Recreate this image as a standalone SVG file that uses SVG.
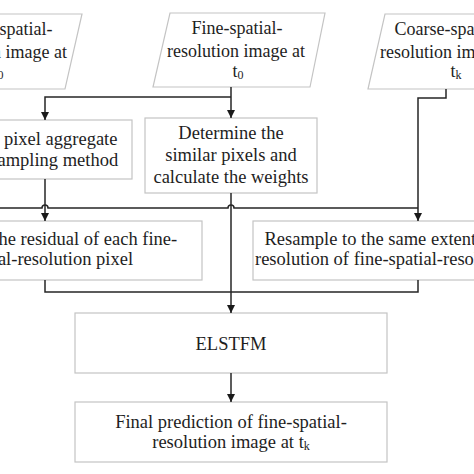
<svg xmlns="http://www.w3.org/2000/svg" width="474" height="474" viewBox="0 0 474 474">
<style>
.box{fill:#ffffff;stroke:#c4c4c4;stroke-width:1.2}
.t{font-family:"Liberation Serif","Times New Roman",serif;font-size:18.5px;fill:#1e1e1e;text-anchor:middle}
.p{font-size:18px}
.c{fill:none;stroke:#262626;stroke-width:1.5}
</style>
<defs>
<marker id="ah" markerUnits="userSpaceOnUse" markerWidth="8" markerHeight="8" refX="8" refY="4" orient="auto">
<path d="M0,0 L8,4 L0,8 z" fill="#1a1a1a"/>
</marker>
</defs>
<rect width="474" height="474" fill="#ffffff"/>
<g id="coarse-t0">
<polygon class="box" points="-73,14 82,14 65,89 -90,89"/>
<text class="t p" x="-2" y="35">Coarse-spatial-</text>
<text class="t p" x="-2" y="58">resolution image at</text>
<text class="t p" x="-2" y="77">t<tspan font-size="12" dy="2">0</tspan></text>
</g>
<g id="fine-t0">
<polygon class="box" points="170,13 325,13 310,87 153,87"/>
<text class="t p" x="237" y="34">Fine-spatial-</text>
<text class="t p" x="236" y="57">resolution image at</text>
<text class="t p" x="238" y="77">t<tspan font-size="12" dy="2">0</tspan></text>
</g>
<g id="coarse-tk">
<polygon class="box" points="385,14 540,14 523,89 368,89"/>
<text class="t p" x="449" y="35">Coarse-spatial-</text>
<text class="t p" x="449" y="58">resolution image at</text>
<text class="t p" x="456" y="77">t<tspan font-size="12" dy="2">k</tspan></text>
</g>
<g id="aggregate">
<rect class="box" x="-38" y="120" width="170" height="59"/>
<text class="t" x="44" y="145">The pixel aggregate</text>
<text class="t" x="47" y="166">resampling method</text>
</g>
<g id="similar">
<rect class="box" x="145" y="118" width="172" height="75"/>
<text class="t" x="231" y="139">Determine the</text>
<text class="t" x="231" y="161">similar pixels and</text>
<text class="t" x="231" y="183">calculate the weights</text>
</g>
<g id="residual">
<rect class="box" x="-104" y="221" width="306" height="59"/>
<text class="t" x="48" y="245">Calculate the residual of each fine-</text>
<text class="t" x="48" y="265">spatial-resolution pixel</text>
</g>
<g id="resample">
<rect class="box" x="253" y="221" width="265" height="59"/>
<text class="t" x="386" y="245">Resample to the same extent and</text>
<text class="t" x="386" y="265">resolution of fine-spatial-resolution</text>
</g>
<g id="elstfm">
<rect class="box" x="75" y="313" width="312" height="60"/>
<text class="t" x="231" y="350">ELSTFM</text>
</g>
<g id="final">
<rect class="box" x="75" y="402" width="312" height="60"/>
<text class="t" x="231" y="428">Final prediction of fine-spatial-</text>
<text class="t" x="231" y="448">resolution image at t<tspan font-size="12" dy="2">k</tspan></text>
</g>
<g id="connectors">
<path class="c" d="M231,87 V118" marker-end="url(#ah)"/>
<path class="c" d="M231,97 H45 V120" marker-end="url(#ah)"/>
<path class="c" d="M446,89 V98 H418 V221" marker-end="url(#ah)"/>
<path class="c" d="M-5,208 H42 A3,3 0 0 1 48,208 H228 A3,3 0 0 1 234,208 H418"/>
<path class="c" d="M45,179 V221" marker-end="url(#ah)"/>
<path class="c" d="M231,193 V313" marker-end="url(#ah)"/>
<path class="c" d="M45,280 V292 H418 V280"/>
<path class="c" d="M231,373 V402" marker-end="url(#ah)"/>
</g>
</svg>
